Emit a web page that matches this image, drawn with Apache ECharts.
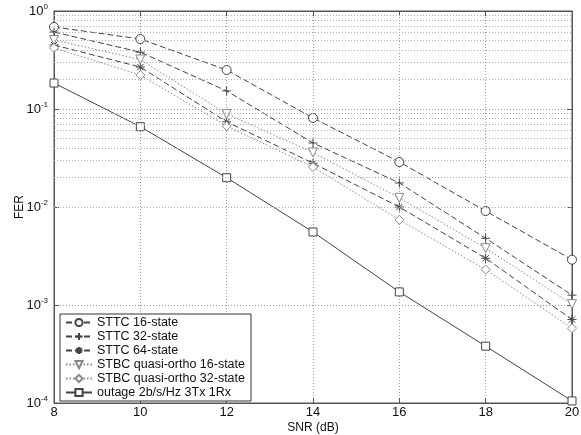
<!DOCTYPE html>
<html><head><meta charset="utf-8">
<script src="https://cdn.jsdelivr.net/npm/echarts@6/dist/echarts.min.js"></script>
<style>html,body{margin:0;padding:0;background:#fff}#c{width:581px;height:435px}</style>
</head><body><div id="c"></div>
<script>
var snr = [8, 10, 12, 14, 16, 18, 20];
var sttc16 = [0.687, 0.518, 0.25, 0.081, 0.0288, 0.0091, 0.0029];
var sttc32 = [0.61, 0.38, 0.153, 0.045, 0.0176, 0.0048, 0.00126];
var sttc64 = [0.45, 0.268, 0.074, 0.028, 0.010, 0.0030, 0.00071];
var stbc16 = [0.506, 0.32, 0.089, 0.036, 0.0124, 0.0038, 0.00102];
var stbc32 = [0.42, 0.222, 0.067, 0.0256, 0.0074, 0.0023, 0.00058];
var outage = [0.184, 0.066, 0.0199, 0.00556, 0.00136, 0.00038, 0.000105];
var names = ['STTC 16-state', 'STTC 32-state', 'STTC 64-state',
  'STBC quasi-ortho 16-state', 'STBC quasi-ortho 32-state', 'outage 2b/s/Hz 3Tx 1Rx'];
var minorVals = [];
[-4, -3, -2, -1].forEach(function (e) {
  for (var m = 2; m <= 9; m++) minorVals.push(m * Math.pow(10, e));
});

function pairs(arr) { return snr.map(function (x, i) { return [x, arr[i]]; }); }
var FONT = 'Liberation Sans, Arial, sans-serif';
var plusPath = 'path://M5,0L5,10M0,5L10,5';
var starPath = 'path://M5,0L5,10M0,5L10,5M1.5,1.5L8.5,8.5M8.5,1.5L1.5,8.5';
var triDown = 'path://M0,0L10,0L5,9Z';

function mk(name, data, sym, size, type, color) {
  return {
    name: name, type: 'line', data: pairs(data), symbol: sym, symbolSize: size,
    showAllSymbol: true,
    lineStyle: { color: color, width: 1, type: type },
    itemStyle: { color: '#fff', borderColor: color, borderWidth: 1 },
    z: 3, animation: false
  };
}
var series = [
  mk(names[0], sttc16, 'circle', 9, [6, 3], '#444'),
  mk(names[1], sttc32, plusPath, 9, [6, 3], '#444'),
  mk(names[2], sttc64, starPath, 9, [6, 3], '#444'),
  mk(names[3], stbc16, triDown, 9, [1.5, 2], '#888'),
  mk(names[4], stbc32, 'diamond', 9, [1.5, 2], '#888'),
  mk(names[5], outage, 'rect', 8, 'solid', '#444')
];
series.push({
  type: 'line', data: [], silent: true, animation: false, z: 1,
  markLine: {
    silent: true, symbol: 'none', animation: false,
    label: { show: false },
    lineStyle: { color: '#aaa', type: [1, 2], width: 1 },
    data: minorVals.map(function (v) { return { yAxis: v }; })
  }
});

var axisLine = { show: true, lineStyle: { color: '#555', width: 1 } };
var split = { show: true, lineStyle: { color: '#999', type: [1, 2], width: 1 } };
var chart = echarts.init(document.getElementById('c'), null, { renderer: 'canvas' });
chart.setOption({
  animation: false,
  backgroundColor: '#fff',
  grid: { left: 54, right: 9, top: 11, bottom: 32, outerBoundsMode: 'none', containLabel: false,
    show: true, borderColor: '#555', borderWidth: 1, backgroundColor: 'transparent' },
  legend: {
    orient: 'vertical', left: 60, top: 314, data: names,
    backgroundColor: '#fff', borderColor: '#333', borderWidth: 1, borderRadius: 0,
    padding: [2, 6, 2, 5], itemWidth: 26, itemHeight: 9, itemGap: 1,
    textStyle: { fontFamily: FONT, fontSize: 12.5, color: '#111' }
  },
  xAxis: [{
    type: 'value', min: 8, max: 20, interval: 2,
    name: 'SNR (dB)', nameLocation: 'middle', nameGap: 19, nameMoveOverlap: false,
    nameTextStyle: { fontFamily: FONT, fontSize: 12, color: '#111', verticalAlign: 'top' },
    axisLine: axisLine, axisTick: { show: true, inside: true, length: 5, lineStyle: { color: '#555' } },
    axisLabel: { fontFamily: FONT, fontSize: 13, color: '#111', margin: 3 },
    splitLine: split
  }, {
    type: 'value', min: 8, max: 20, interval: 2, position: 'top',
    axisLine: axisLine, axisTick: { show: true, inside: true, length: 5, lineStyle: { color: '#555' } },
    axisLabel: { show: false }, splitLine: { show: false }
  }],
  yAxis: [{
    type: 'log', logBase: 10, min: 0.0001, max: 1, interval: 1,
    name: 'FER', nameLocation: 'middle', nameGap: 28, nameMoveOverlap: false,
    nameTextStyle: { fontFamily: FONT, fontSize: 12, color: '#111' },
    axisLine: axisLine, axisTick: { show: true, inside: true, length: 5, lineStyle: { color: '#555' } },
    axisLabel: {
      fontFamily: FONT, fontSize: 13, color: '#111', margin: 6,
      formatter: function (v) { return '10{s|' + Math.round(Math.log10(v)) + '}'; },
      rich: { s: { fontSize: 8, verticalAlign: 'top', padding: [0, 0, 8, 0], fontFamily: FONT, color: '#111' } }
    },
    splitLine: split
  }, {
    type: 'log', logBase: 10, min: 0.0001, max: 1, interval: 1, position: 'right',
    axisLine: axisLine, axisTick: { show: true, inside: true, length: 5, lineStyle: { color: '#555' } },
    axisLabel: { show: false }, splitLine: { show: false }
  }],
  series: series
});
</script></body></html>
